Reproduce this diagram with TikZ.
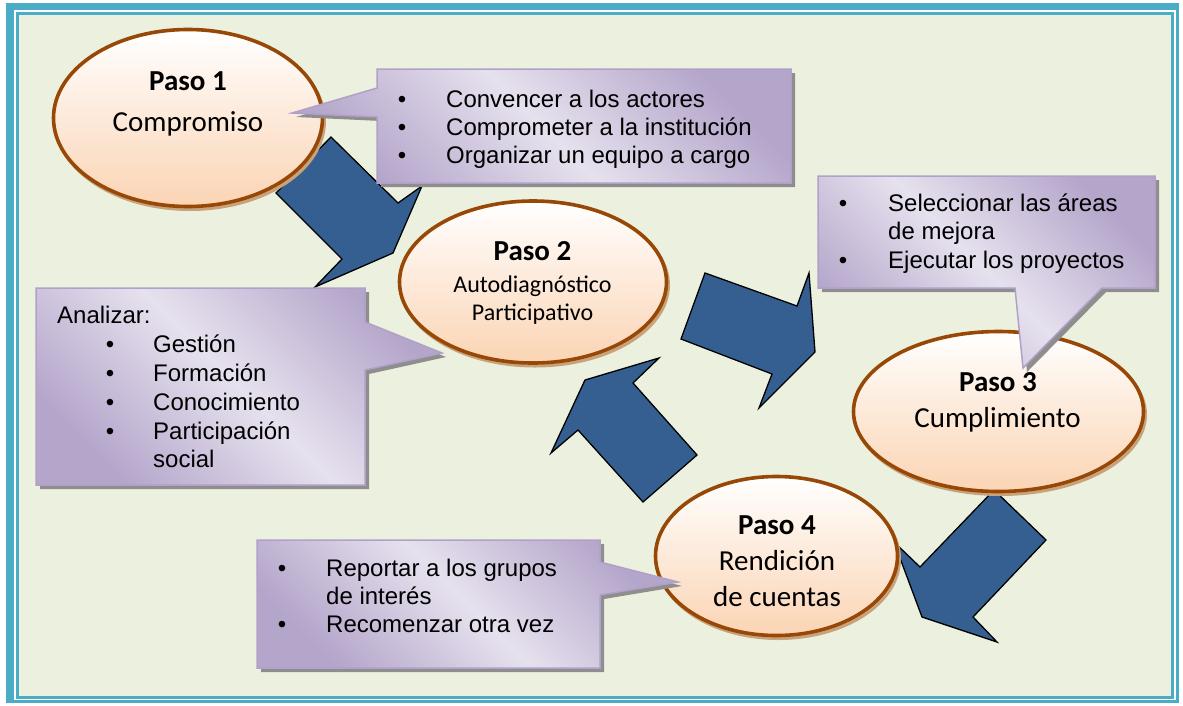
\documentclass[tikz,border=0pt]{standalone}
\usepackage{fontspec}
\setmainfont{Liberation Sans}
\newfontfamily\calibri{Carlito}
\usetikzlibrary{shapes.geometric}
\definecolor{frameteal}{HTML}{4BACC6}
\definecolor{bggreen}{HTML}{EBF1DE}
\definecolor{ellborder}{HTML}{984806}
\definecolor{peach}{HTML}{FBD4B4}
\definecolor{ellshadow}{HTML}{C8A27A}
\definecolor{arrowblue}{HTML}{365F91}
\definecolor{calllight}{HTML}{E6E1EE}
\definecolor{calldark}{HTML}{B4A5CA}
\definecolor{callborder}{HTML}{B1A0C7}
\definecolor{shadowgray}{HTML}{8E8E8E}
\tikzset{
  stepell/.style={ellipse, draw=ellborder, line width=3.6pt, top color=white, bottom color=peach, inner sep=0pt},
  stepshadow/.style={ellipse, draw=ellshadow, line width=3pt, fill=ellshadow!50, inner sep=0pt},
  blockarrow/.style={draw=black, line width=1.3pt, fill=arrowblue, line join=miter},
  callout/.style={draw=callborder, line width=1.5pt, top color=calldark, bottom color=calldark, middle color=calllight, shading angle=-45},
  callshadow/.style={fill=shadowgray},
  head/.style={font=\calibri\bfseries\fontsize{29}{29}\selectfont, anchor=base, inner sep=0pt},
  sub/.style={font=\calibri\fontsize{29}{29}\selectfont, anchor=base, inner sep=0pt},
  subsmall/.style={font=\calibri\fontsize{24}{24}\selectfont, anchor=base, inner sep=0pt},
  ctext/.style={font=\fontsize{24}{24}\selectfont, anchor=base west, inner sep=0pt},
  cbullet/.style={font=\fontsize{24}{24}\selectfont, anchor=base, inner sep=0pt},
}
\begin{document}
\begin{tikzpicture}[x=1pt,y=-1pt]
% frame
\fill[white] (0,0) rectangle (1183,705);
\fill[frameteal] (6,3) rectangle (1179,703);
\fill[white] (14,10) rectangle (1176,700);
\fill[frameteal] (16,12) rectangle (1174,699);
\fill[bggreen] (19,15) rectangle (1171,696);
\useasboundingbox (0,0) rectangle (1183,705);

% block arrows
\draw[blockarrow] (331,137) -- (398,203) -- (422,186) -- (393,253) -- (315,287) -- (342,259) -- (276,193) -- cycle;
\draw[blockarrow] (705,273) -- (797,306) -- (809,273) -- (815,352) -- (759,408) -- (772,374) -- (681,339) -- cycle;
\draw[blockarrow] (585,380) -- (659,358) -- (633,383) -- (697,455) -- (643,502) -- (578,430) -- (551,453) -- cycle;
\draw[blockarrow] (994,490) -- (1046,540) -- (973,617) -- (997,642) -- (922,617) -- (894,542) -- (920,567) -- cycle;

% ellipses
\node[stepshadow, minimum width=269pt, minimum height=177pt] (s1) at (190,121) {};
\node[stepell, minimum width=269pt, minimum height=177pt] (e1) at (188,118) {};
\node[stepshadow, minimum width=267pt, minimum height=162pt] (s2) at (535,285) {};
\node[stepell, minimum width=267pt, minimum height=162pt] (e2) at (533,282) {};
\node[stepshadow, minimum width=290pt, minimum height=160pt] (s3) at (1000.5,414.5) {};
\node[stepell, minimum width=290pt, minimum height=160pt] (e3) at (998.5,411.5) {};
\node[stepshadow, minimum width=242pt, minimum height=159pt] (s4) at (778.5,559) {};
\node[stepell, minimum width=242pt, minimum height=159pt] (e4) at (776.5,556) {};

\node[head] (t1a) at (188,90) {Paso 1};
\node[sub] (t1b) at (188,131) {Compromiso};
\node[head] (t2a) at (532.5,260) {Paso 2};
\node[subsmall] (t2b) at (532.5,292) {Autodiagnóstico};
\node[subsmall] (t2c) at (532.5,320) {Participativo};
\node[head] (t3a) at (998,391) {Paso 3};
\node[sub] (t3b) at (997.5,427) {Cumplimiento};
\node[head] (t4a) at (777,534) {Paso 4};
\node[sub] (t4b) at (777,570) {Rendición};
\node[sub] (t4c) at (777,606) {de cuentas};

% callouts
\fill[callshadow] (381,73) -- (795,73) -- (795,187) -- (381,187) -- (381,121) -- (296,117) -- (381,92) -- cycle;
\draw[callout] (377,69) -- (791,69) -- (791,183) -- (377,183) -- (377,117) -- (292,113) -- (377,88) -- cycle;
\fill[callshadow] (40,292) -- (369,292) -- (369,326) -- (446,357) -- (369,374) -- (369,489) -- (40,489) -- cycle;
\draw[callout] (36,288) -- (365,288) -- (365,322) -- (442,353) -- (365,370) -- (365,485) -- (36,485) -- cycle;
\fill[callshadow] (822,180) -- (1159,180) -- (1159,292) -- (1106,292) -- (1027,372) -- (1019,292) -- (822,292) -- cycle;
\draw[callout] (818,176) -- (1155,176) -- (1155,288) -- (1102,288) -- (1023,368) -- (1015,288) -- (818,288) -- cycle;
\fill[callshadow] (261,544) -- (604,544) -- (604,566) -- (682,586) -- (604,599) -- (604,672) -- (261,672) -- cycle;
\draw[callout] (257,540) -- (600,540) -- (600,562) -- (678,582) -- (600,595) -- (600,668) -- (257,668) -- cycle;

% callout 1 text
\node[cbullet] (b1a) at (402,107) {•};
\node[ctext] (c1a) at (446,107) {Convencer a los actores};
\node[cbullet] (b1b) at (402,135) {•};
\node[ctext] (c1b) at (446,135) {Comprometer a la institución};
\node[cbullet] (b1c) at (402,163) {•};
\node[ctext] (c1c) at (446,163) {Organizar un equipo a cargo};

% callout 2 text
\node[ctext] (c2h) at (57,323) {Analizar:};
\node[cbullet] (b2a) at (110,352) {•};
\node[ctext] (c2a) at (153,352) {Gestión};
\node[cbullet] (b2b) at (110,381) {•};
\node[ctext] (c2b) at (153,381) {Formación};
\node[cbullet] (b2c) at (110,410) {•};
\node[ctext] (c2c) at (153,410) {Conocimiento};
\node[cbullet] (b2d) at (110,439) {•};
\node[ctext] (c2d) at (153,439) {Participación};
\node[ctext] (c2e) at (153,467) {social};

% callout 3 text
\node[cbullet] (b3a) at (843,211) {•};
\node[ctext] (c3a) at (888,211) {Seleccionar las áreas};
\node[ctext] (c3b) at (888,239.5) {de mejora};
\node[cbullet] (b3b) at (843,268) {•};
\node[ctext] (c3c) at (888,268) {Ejecutar los proyectos};

% callout 4 text
\node[cbullet] (b4a) at (282,576) {•};
\node[ctext] (c4a) at (326,576) {Reportar a los grupos};
\node[ctext] (c4b) at (326,604) {de interés};
\node[cbullet] (b4b) at (282,632) {•};
\node[ctext] (c4c) at (326,632) {Recomenzar otra vez};
\end{tikzpicture}
\end{document}
